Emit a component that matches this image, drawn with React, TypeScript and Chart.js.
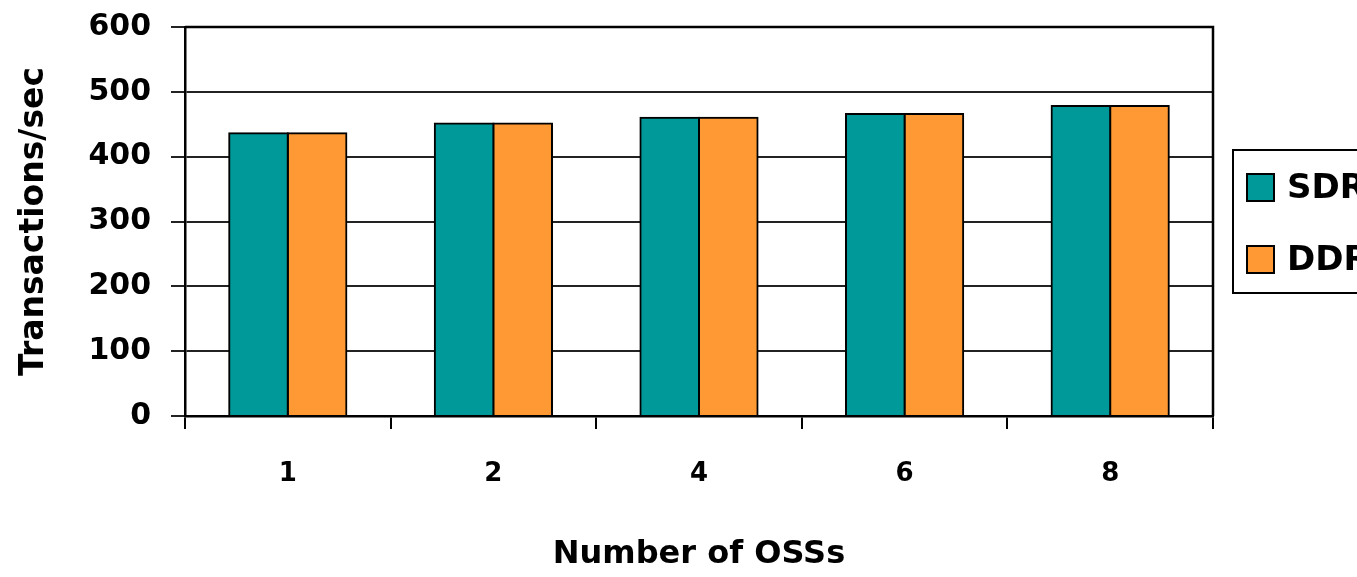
import React, { useEffect, useRef } from "react";
import { Chart, registerables } from "chart.js";

Chart.register(...registerables);

// OSS counts on the x axis
const categories = ["1", "2", "4", "6", "8"];
// Throughput (transactions/sec) per configuration
const sdrValues = [436, 451, 460, 466, 478];
const ddrValues = [436, 451, 460, 466, 478];
const seriesNames = ["SDR", "DDR"];
const seriesColors = ["#009999", "#FF9933"];
const yTicks = [0, 100, 200, 300, 400, 500, 600];

const FONT = "'DejaVu Sans', sans-serif";

// Closes the plot frame (top and right edges)
const framePlugin = {
  id: "plotFrame",
  afterDatasetsDraw(chart: any) {
    const { ctx, chartArea } = chart;
    ctx.save();
    ctx.strokeStyle = "#000";
    ctx.lineWidth = 2.5;
    ctx.beginPath();
    ctx.moveTo(chartArea.left, chartArea.top);
    ctx.lineTo(chartArea.right, chartArea.top);
    ctx.lineTo(chartArea.right, chartArea.bottom);
    ctx.stroke();
    ctx.restore();
  },
};

// Boxed legend to the right of the plot
const boxLegendPlugin = {
  id: "boxLegend",
  afterDraw(chart: any) {
    const { ctx, chartArea } = chart;
    const x = chartArea.right + 20;
    const y = 150;
    ctx.save();
    ctx.strokeStyle = "#000";
    ctx.lineWidth = 2;
    ctx.strokeRect(x, y, 220, 143);
    chart.data.datasets.forEach((ds: any, i: number) => {
      const sy = 174 + i * 72;
      ctx.fillStyle = ds.backgroundColor;
      ctx.fillRect(x + 14, sy, 27, 27);
      ctx.lineWidth = 2;
      ctx.strokeRect(x + 14, sy, 27, 27);
      ctx.fillStyle = "#000";
      ctx.font = `bold 34px ${FONT}`;
      ctx.textAlign = "left";
      ctx.textBaseline = "middle";
      ctx.fillText(ds.label, x + 54, sy + 15);
    });
    ctx.restore();
  },
};

export default function App() {
  const canvasRef = useRef<HTMLCanvasElement | null>(null);

  useEffect(() => {
    const canvas = canvasRef.current;
    if (!canvas) return;
    const chart = new Chart(canvas, {
      type: "bar",
      data: {
        labels: categories,
        datasets: [
          {
            label: seriesNames[0],
            data: sdrValues,
            backgroundColor: seriesColors[0],
            borderColor: "#000",
            borderWidth: 2,
            inflateAmount: 1,
          },
          {
            label: seriesNames[1],
            data: ddrValues,
            backgroundColor: seriesColors[1],
            borderColor: "#000",
            borderWidth: 2,
            inflateAmount: 1,
          },
        ],
      },
      options: {
        responsive: false,
        animation: false,
        devicePixelRatio: 1,
        layout: { padding: { top: 27, right: 144, left: 0, bottom: 0 } },
        datasets: { bar: { categoryPercentage: 0.57, barPercentage: 1 } },
        plugins: {
          legend: { display: false },
          tooltip: { enabled: false },
        },
        scales: {
          x: {
            grid: {
              offset: true,
              drawOnChartArea: false,
              drawTicks: true,
              tickLength: 13,
              color: "#000",
              lineWidth: 2,
            },
            border: { color: "#000", width: 2.5 },
            ticks: {
              color: "#000",
              padding: 30,
              font: { family: FONT, size: 26, weight: "bold" },
            },
            title: {
              display: true,
              text: "Number of OSSs",
              color: "#000",
              padding: { bottom: 3, top: 0 },
              font: { family: FONT, size: 32, weight: "bold" },
            },
            afterFit(scale: any) {
              scale.height = 161;
              scale.paddingLeft = 0;
              scale.paddingRight = 0;
            },
          },
          y: {
            min: 0,
            max: 600,
            afterBuildTicks(scale: any) {
              scale.ticks = yTicks.map((v) => ({ value: v }));
            },
            grid: {
              color: "#222",
              lineWidth: 2,
              drawTicks: true,
              tickLength: 14,
            },
            border: { color: "#000", width: 2.5 },
            ticks: {
              color: "#000",
              padding: 20,
              font: { family: FONT, size: 30, weight: "bold" },
            },
            title: {
              display: true,
              text: "Transactions/sec",
              color: "#000",
              padding: { top: 15, bottom: 0 },
              font: { family: FONT, size: 33, weight: "bold" },
            },
            afterFit(scale: any) {
              scale.width = 185;
              scale.paddingTop = 0;
              scale.paddingBottom = 0;
            },
          },
        },
      },
      plugins: [framePlugin, boxLegendPlugin],
    } as any);
    return () => chart.destroy();
  }, []);

  return (
    <div style={{ position: "absolute", left: 0, top: 0, width: 1357, height: 577, background: "#fff" }}>
      <canvas ref={canvasRef} width={1357} height={577} />
    </div>
  );
}
